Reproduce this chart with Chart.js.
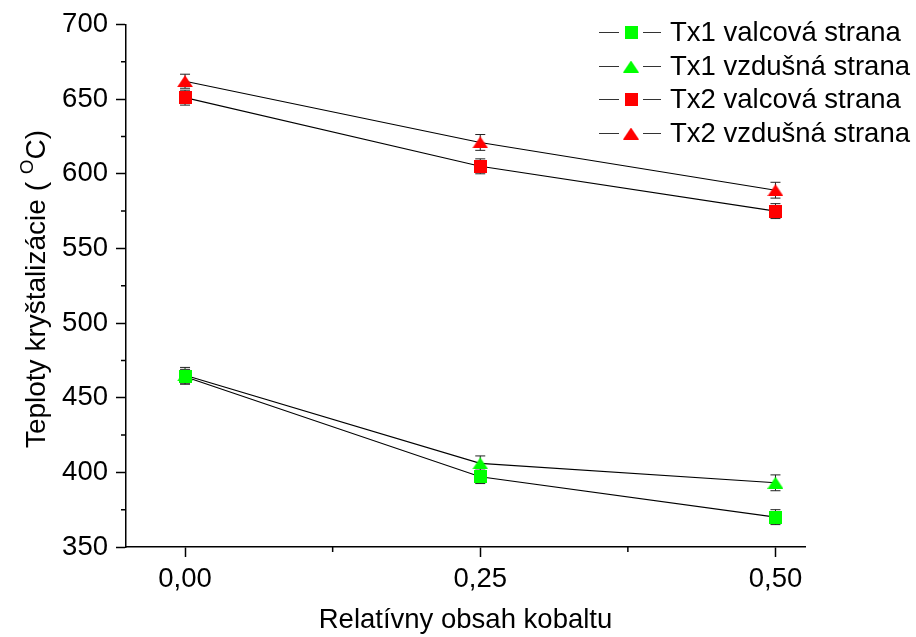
<!DOCTYPE html>
<html>
<head>
<meta charset="utf-8">
<script src="https://cdn.jsdelivr.net/npm/chart.js@4.4.1/dist/chart.umd.min.js"></script>
<style>
  html, body { margin: 0; padding: 0; background: #fff; }
</style>
</head>
<body>
<canvas id="chart" width="916" height="637"></canvas>
<script>
const cobalt = [0, 0.25, 0.5];
const seriesNames = ['Tx1 valcová strana', 'Tx1 vzdušná strana', 'Tx2 valcová strana', 'Tx2 vzdušná strana'];
const tx1Valcova = [464, 397, 370];
const tx1Vzdusna = [465, 406, 393];
const tx2Valcova = [651, 605, 575];
const tx2Vzdusna = [662, 621, 589];
const tx1ValcovaErr = [5, 4.5, 5];
const tx1VzdusnaErr = [5.3, 5, 5.3];
const tx2ValcovaErr = [5, 5, 5];
const tx2VzdusnaErr = [4.7, 5.3, 5.3];
const xTicks = [0, 0.25, 0.5];
const xMinorTicks = [0.125, 0.375];
const yMinorTicks = [375, 425, 475, 525, 575, 625, 675];

const FONT = "'Liberation Sans', Arial, sans-serif";
const TXT = 27.5;
const GREEN = '#00ff00', RED = '#ff0000';

// small canvases used as point styles, centred on the point
function marker(shape, color) {
  const c = document.createElement('canvas');
  const w = shape === 'square' ? 13 : 16;
  const h = shape === 'square' ? 13 : 12;
  c.width = w; c.height = h;
  const g = c.getContext('2d');
  g.fillStyle = color;
  if (shape === 'square') {
    g.fillRect(0, 0, w, h);
  } else {
    g.beginPath();
    g.moveTo(w / 2, 0);
    g.lineTo(w, h);
    g.lineTo(0, h);
    g.closePath();
    g.fill();
  }
  return c;
}

function pts(vals) {
  return vals.map((v, i) => ({x: cobalt[i], y: v}));
}

function series(label, vals, errs, style) {
  return {
    label: label,
    data: pts(vals),
    errors: errs,
    borderColor: '#000',
    borderWidth: 1.1,
    pointStyle: style,
    pointRadius: 7,
    pointHoverRadius: 7,
    tension: 0,
    fill: false
  };
}

const extras = {
  id: 'extras',
  beforeDatasetsDraw(chart) {
    // error bars sit under the markers
    const ctx = chart.ctx, ys = chart.scales.y;
    ctx.save();
    ctx.strokeStyle = '#222';
    ctx.lineWidth = 1;
    chart.data.datasets.forEach((ds, i) => {
      chart.getDatasetMeta(i).data.forEach((pt, j) => {
        const v = ds.data[j].y, e = ds.errors[j];
        const top = ys.getPixelForValue(v + e), bot = ys.getPixelForValue(v - e);
        ctx.beginPath();
        ctx.moveTo(pt.x, top); ctx.lineTo(pt.x, bot);
        ctx.moveTo(pt.x - 5, top); ctx.lineTo(pt.x + 5, top);
        ctx.moveTo(pt.x - 5, bot); ctx.lineTo(pt.x + 5, bot);
        ctx.stroke();
      });
    });
    ctx.restore();
  },
  afterDraw(chart) {
    const ctx = chart.ctx, xs = chart.scales.x, ys = chart.scales.y;
    const area = chart.chartArea;
    ctx.save();
    // minor ticks
    ctx.strokeStyle = '#000';
    ctx.lineWidth = 1.5;
    ctx.beginPath();
    xMinorTicks.forEach(v => {
      const px = xs.getPixelForValue(v);
      ctx.moveTo(px, area.bottom); ctx.lineTo(px, area.bottom + 5);
    });
    yMinorTicks.forEach(v => {
      const py = ys.getPixelForValue(v);
      ctx.moveTo(area.left, py); ctx.lineTo(area.left - 5, py);
    });
    ctx.stroke();

    // legend: line - marker - line, then the name
    ctx.font = TXT + 'px ' + FONT;
    ctx.textBaseline = 'middle';
    ctx.textAlign = 'left';
    chart.data.datasets.forEach((ds, i) => {
      const y = Math.round(32 + i * 33.7) + 0.5;
      ctx.strokeStyle = '#333';
      ctx.lineWidth = 1;
      ctx.beginPath();
      ctx.moveTo(599, y); ctx.lineTo(619, y);
      ctx.moveTo(643, y); ctx.lineTo(661, y);
      ctx.stroke();
      const img = ds.pointStyle;
      ctx.drawImage(img, 631 - img.width / 2, y - img.height / 2);
      ctx.fillStyle = '#000';
      ctx.fillText(ds.label, 670, y + 1);
    });

    // y axis title with a raised O before C
    const big = '28px ' + FONT, small = '19px ' + FONT;
    const p1 = 'Teploty kryštalizácie ( ', sup = 'O', p2 = 'C)';
    ctx.font = big;
    const w1 = ctx.measureText(p1).width, w3 = ctx.measureText(p2).width;
    ctx.font = small;
    const w2 = ctx.measureText(sup).width;
    const total = w1 + w2 + w3;
    ctx.translate(35, 289);
    ctx.rotate(-Math.PI / 2);
    ctx.fillStyle = '#000';
    ctx.textBaseline = 'alphabetic';
    const x0 = -total / 2;
    ctx.font = big;
    ctx.fillText(p1, x0, 10);
    ctx.font = small;
    ctx.fillText(sup, x0 + w1, -2);
    ctx.font = big;
    ctx.fillText(p2, x0 + w1 + w2, 10);
    ctx.restore();
  }
};

const ctx = document.getElementById('chart').getContext('2d');
const myChart = new Chart(ctx, {
  type: 'line',
  data: {
    datasets: [
      series(seriesNames[0], tx1Valcova, tx1ValcovaErr, marker('square', GREEN)),
      series(seriesNames[1], tx1Vzdusna, tx1VzdusnaErr, marker('triangle', GREEN)),
      series(seriesNames[2], tx2Valcova, tx2ValcovaErr, marker('square', RED)),
      series(seriesNames[3], tx2Vzdusna, tx2VzdusnaErr, marker('triangle', RED))
    ]
  },
  options: {
    responsive: false,
    animation: false,
    events: [],
    layout: { padding: { left: 0, top: 22, right: 916 - 805, bottom: 0 } },
    plugins: { legend: { display: false }, tooltip: { enabled: false } },
    scales: {
      x: {
        type: 'linear',
        min: -0.05,
        max: 0.525,
        afterBuildTicks: s => { s.ticks = xTicks.map(v => ({value: v})); },
        afterFit: s => { s.height = 90; },
        grid: { drawOnChartArea: false, drawTicks: true, tickLength: 10, tickColor: '#000', tickWidth: 1.5 },
        border: { display: true, color: '#000', width: 1.5 },
        ticks: {
          color: '#000',
          padding: 6,
          maxRotation: 0,
          font: { family: FONT, size: TXT },
          callback: v => v.toFixed(2).replace('.', ',')
        },
        title: {
          display: true,
          text: 'Relatívny obsah kobaltu',
          color: '#000',
          font: { family: FONT, size: TXT },
          padding: { top: 0, bottom: 0 }
        }
      },
      y: {
        min: 350,
        max: 700,
        afterFit: s => { s.width = 126; },
        grid: { drawOnChartArea: false, drawTicks: true, tickLength: 10, tickColor: '#000', tickWidth: 1.5 },
        border: { display: true, color: '#000', width: 1.5 },
        ticks: {
          stepSize: 50,
          color: '#000',
          padding: 8,
          font: { family: FONT, size: TXT }
        }
      }
    }
  },
  plugins: [extras]
});
</script>
</body>
</html>
